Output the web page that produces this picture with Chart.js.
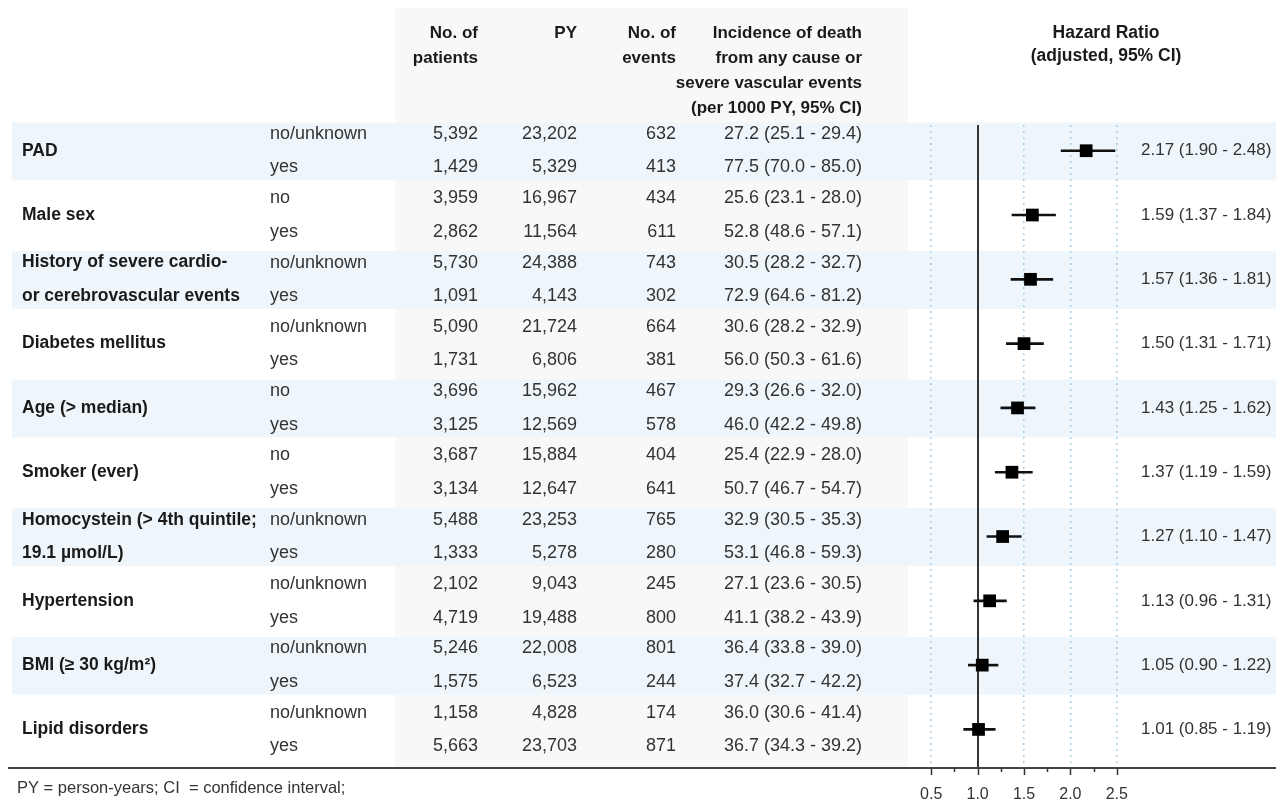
<!DOCTYPE html>
<html>
<head>
<meta charset="utf-8">
<script src="https://cdn.jsdelivr.net/npm/chart.js@4/dist/chart.umd.min.js"></script>
<style>
  html, body { margin: 0; padding: 0; background: #ffffff; }
  canvas { display: block; }
</style>
</head>
<body>
<canvas id="forest" width="1276" height="802"></canvas>
<script>
// Risk factors (one group per row pair)
const factors = [
  ['PAD'],
  ['Male sex'],
  ['History of severe cardio-', 'or cerebrovascular events'],
  ['Diabetes mellitus'],
  ['Age (> median)'],
  ['Smoker (ever)'],
  ['Homocystein (> 4th quintile;', '19.1 µmol/L)'],
  ['Hypertension'],
  ['BMI (≥ 30 kg/m²)'],
  ['Lipid disorders']
];
const levels = [
  ['no/unknown', 'yes'], ['no', 'yes'], ['no/unknown', 'yes'], ['no/unknown', 'yes'],
  ['no', 'yes'], ['no', 'yes'], ['no/unknown', 'yes'], ['no/unknown', 'yes'],
  ['no/unknown', 'yes'], ['no/unknown', 'yes']
];

// Table columns, [first level, second level] per factor
const patients = [[5392, 1429], [3959, 2862], [5730, 1091], [5090, 1731], [3696, 3125],
                  [3687, 3134], [5488, 1333], [2102, 4719], [5246, 1575], [1158, 5663]];
const personYears = [[23202, 5329], [16967, 11564], [24388, 4143], [21724, 6806], [15962, 12569],
                     [15884, 12647], [23253, 5278], [9043, 19488], [22008, 6523], [4828, 23703]];
const events = [[632, 413], [434, 611], [743, 302], [664, 381], [467, 578],
                [404, 641], [765, 280], [245, 800], [801, 244], [174, 871]];
const incidence = [[27.2, 77.5], [25.6, 52.8], [30.5, 72.9], [30.6, 56.0], [29.3, 46.0],
                   [25.4, 50.7], [32.9, 53.1], [27.1, 41.1], [36.4, 37.4], [36.0, 36.7]];
const incidenceLo = [[25.1, 70.0], [23.1, 48.6], [28.2, 64.6], [28.2, 50.3], [26.6, 42.2],
                     [22.9, 46.7], [30.5, 46.8], [23.6, 38.2], [33.8, 32.7], [30.6, 34.3]];
const incidenceHi = [[29.4, 85.0], [28.0, 57.1], [32.7, 81.2], [32.9, 61.6], [32.0, 49.8],
                     [28.0, 54.7], [35.3, 59.3], [30.5, 43.9], [39.0, 42.2], [41.4, 39.2]];

// Adjusted hazard ratios with 95% CI
const hazardRatio = [2.17, 1.59, 1.57, 1.50, 1.43, 1.37, 1.27, 1.13, 1.05, 1.01];
const hazardLo    = [1.90, 1.37, 1.36, 1.31, 1.25, 1.19, 1.10, 0.96, 0.90, 0.85];
const hazardHi    = [2.48, 1.84, 1.81, 1.71, 1.62, 1.59, 1.47, 1.31, 1.22, 1.19];

// Axis ticks: labelled every 0.5, minor marks every 0.25
const axisTicks = [0.5, 0.75, 1.0, 1.25, 1.5, 1.75, 2.0, 2.25, 2.5];
const axisLabels = [0.5, 1.0, 1.5, 2.0, 2.5];

const FONT = '"Liberation Sans", Arial, Helvetica, sans-serif';
const BODY = `18px ${FONT}`;
const BOLD = `bold 17.5px ${FONT}`;
const HR_FONT = `17px ${FONT}`;
const fmtInt = n => n.toLocaleString('en-US');
const fmtCI = (v, lo, hi, d) => `${v.toFixed(d)} (${lo.toFixed(d)} - ${hi.toFixed(d)})`;
const isLabelled = v => axisLabels.some(a => Math.abs(a - v) < 1e-9);

const ROW_OFFSET = 0.26;   // level rows sit above/below the factor centre

const tablePlugin = {
  id: 'forestTable',
  beforeDraw(chart) {
    const { ctx } = chart;
    const y = chart.scales.y;
    ctx.save();
    // shaded block behind the numeric columns
    ctx.fillStyle = '#f8f8f8';
    ctx.fillRect(395, 8, 513, 760);
    // alternating bands per factor
    ctx.fillStyle = '#eef6fb';
    factors.forEach((f, i) => {
      if (i % 2 !== 0) return;
      const top = y.getPixelForValue(i - 0.44);
      const bot = y.getPixelForValue(i + 0.46);
      ctx.fillRect(12, top, 1276 - 12, bot - top);
    });
    ctx.restore();
  },
  beforeDatasetsDraw(chart) {
    const { ctx, chartArea } = chart;
    const x = chart.scales.x;
    ctx.save();
    // reference line at HR = 1
    const x1 = Math.round(x.getPixelForValue(1.0));
    ctx.strokeStyle = '#333333';
    ctx.lineWidth = 2;
    ctx.beginPath();
    ctx.moveTo(x1, chartArea.top);
    ctx.lineTo(x1, chartArea.bottom);
    ctx.stroke();
    ctx.restore();
  },
  afterDraw(chart) {
    const { ctx, chartArea } = chart;
    const y = chart.scales.y;
    const x = chart.scales.x;
    ctx.save();

    // column headers
    ctx.fillStyle = '#1a1a1a';
    ctx.font = `bold 17px ${FONT}`;
    ctx.textBaseline = 'middle';
    ctx.textAlign = 'right';
    const hy = [33, 58, 83, 108];
    ctx.fillText('No. of', 478, hy[0]);
    ctx.fillText('patients', 478, hy[1]);
    ctx.fillText('PY', 577, hy[0]);
    ctx.fillText('No. of', 676, hy[0]);
    ctx.fillText('events', 676, hy[1]);
    ctx.fillText('Incidence of death', 862, hy[0]);
    ctx.fillText('from any cause or', 862, hy[1]);
    ctx.fillText('severe vascular events', 862, hy[2]);
    ctx.fillText('(per 1000 PY, 95% CI)', 862, hy[3]);
    ctx.textAlign = 'center';
    ctx.font = `bold 17.5px ${FONT}`;
    ctx.fillText('Hazard Ratio', 1106, 33);
    ctx.fillText('(adjusted, 95% CI)', 1106, 56);

    // body rows
    factors.forEach((lines, i) => {
      const yc = y.getPixelForValue(i);
      const yr = [y.getPixelForValue(i - ROW_OFFSET), y.getPixelForValue(i + ROW_OFFSET)];

      ctx.font = BOLD;
      ctx.fillStyle = '#1a1a1a';
      ctx.textAlign = 'left';
      if (lines.length === 1) {
        ctx.fillText(lines[0], 22, yc);
      } else {
        ctx.fillText(lines[0], 22, yr[0]);
        ctx.fillText(lines[1], 22, yr[1]);
      }

      ctx.font = BODY;
      ctx.fillStyle = '#333333';
      for (let k = 0; k < 2; k++) {
        ctx.textAlign = 'left';
        ctx.fillText(levels[i][k], 270, yr[k]);
        ctx.textAlign = 'right';
        ctx.fillText(fmtInt(patients[i][k]), 478, yr[k]);
        ctx.fillText(fmtInt(personYears[i][k]), 577, yr[k]);
        ctx.fillText(fmtInt(events[i][k]), 676, yr[k]);
        ctx.fillText(fmtCI(incidence[i][k], incidenceLo[i][k], incidenceHi[i][k], 1), 862, yr[k]);
      }
      ctx.font = HR_FONT;
      ctx.textAlign = 'left';
      ctx.fillText(fmtCI(hazardRatio[i], hazardLo[i], hazardHi[i], 2), 1141, yc);
    });

    // bottom rule, doubling as the HR axis line
    ctx.strokeStyle = '#444444';
    ctx.lineWidth = 2;
    ctx.beginPath();
    ctx.moveTo(8, chartArea.bottom);
    ctx.lineTo(1276, chartArea.bottom);
    ctx.stroke();

    // tick marks
    ctx.lineWidth = 1.5;
    ctx.strokeStyle = '#333333';
    axisTicks.forEach(v => {
      const px = Math.round(x.getPixelForValue(v)) + 0.5;
      const len = isLabelled(v) ? 7 : 4;
      ctx.beginPath();
      ctx.moveTo(px, chartArea.bottom);
      ctx.lineTo(px, chartArea.bottom + len);
      ctx.stroke();
    });

    // footnote
    ctx.font = `16.5px ${FONT}`;
    ctx.fillStyle = '#333333';
    ctx.textAlign = 'left';
    ctx.fillText('PY = person-years; CI  = confidence interval;', 17, 788);
    ctx.restore();
  }
};

new Chart(document.getElementById('forest'), {
  type: 'scatter',
  data: {
    datasets: [
      {
        type: 'bar',
        indexAxis: 'y',
        data: hazardRatio.map((v, i) => ({ y: i, x: [hazardLo[i], hazardHi[i]] })),
        backgroundColor: '#111111',
        borderWidth: 0,
        barThickness: 2,
        order: 2
      },
      {
        type: 'scatter',
        data: hazardRatio.map((v, i) => ({ x: v, y: i })),
        pointStyle: 'rect',
        pointRadius: 9,
        pointBackgroundColor: '#000000',
        pointBorderWidth: 0,
        order: 1
      }
    ]
  },
  options: {
    responsive: false,
    animation: false,
    devicePixelRatio: 1,
    layout: { padding: { left: 908, right: 136, top: 125, bottom: 0 } },
    plugins: { legend: { display: false }, tooltip: { enabled: false } },
    scales: {
      x: {
        type: 'linear',
        min: 0.25,
        max: 2.75,
        offset: false,
        afterBuildTicks(scale) {
          scale.ticks = axisTicks.map(v => ({ value: v }));
        },
        afterFit(scale) { scale.height = 34; },
        ticks: {
          autoSkip: false,
          maxRotation: 0,
          padding: 17,
          color: '#333333',
          font: { family: FONT, size: 16 },
          callback: v => (isLabelled(v) ? Number(v).toFixed(1) : '')
        },
        grid: {
          drawTicks: false,
          offset: false,
          lineWidth: 1.5,
          color: c => (c.tick && isLabelled(c.tick.value) && Math.abs(c.tick.value - 1) > 1e-9)
            ? '#a6cfea' : 'rgba(0,0,0,0)'
        },
        border: { display: false, dash: [2, 4] }
      },
      y: {
        type: 'linear',
        display: false,
        reverse: true,
        offset: false,
        grid: { offset: false },
        min: -0.4,
        max: 9.6
      }
    }
  },
  plugins: [tablePlugin]
});
</script>
</body>
</html>
